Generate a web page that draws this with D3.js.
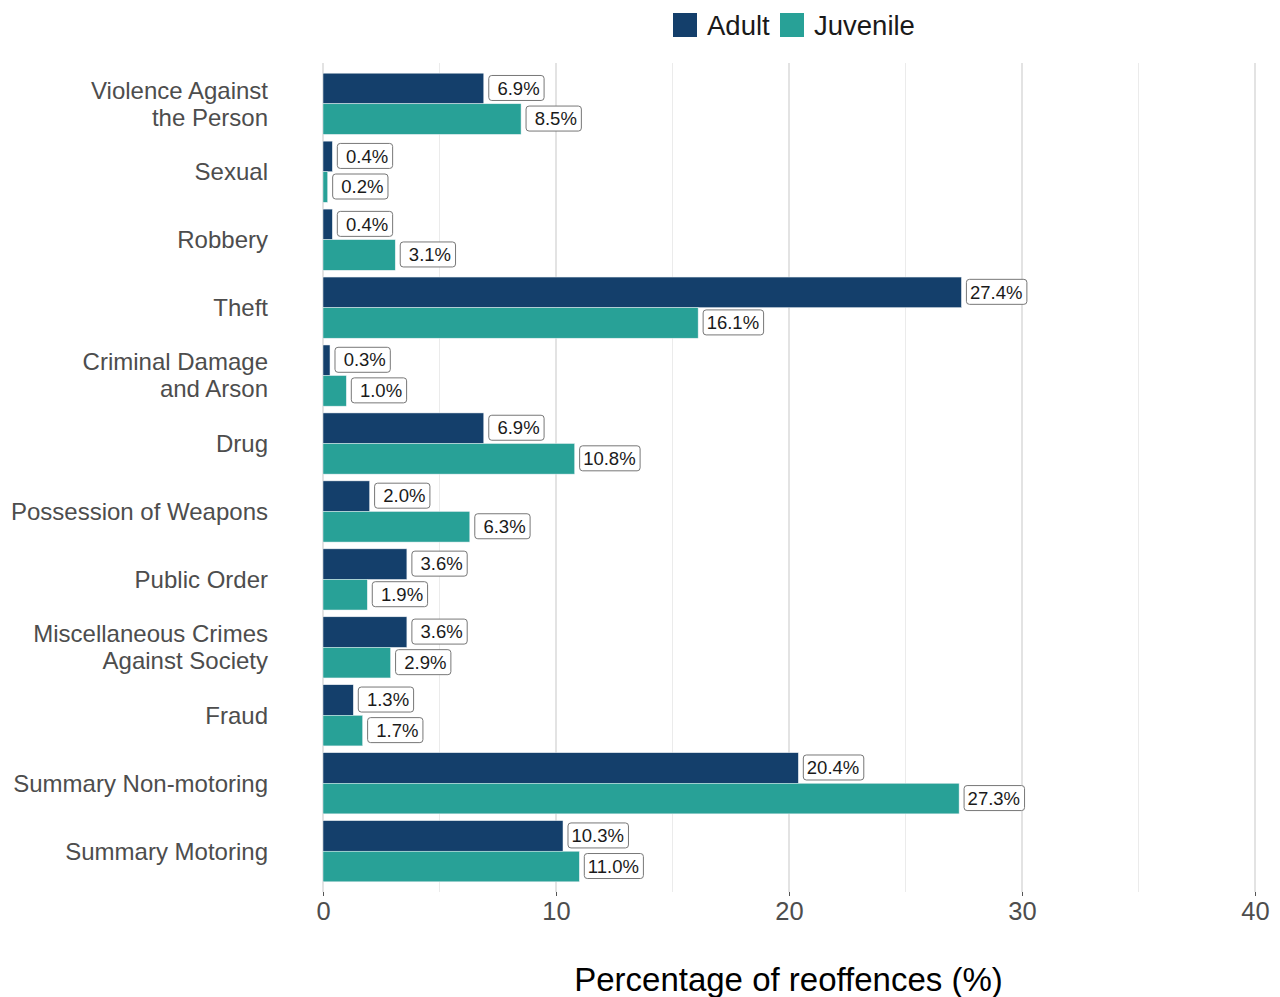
<!DOCTYPE html>
<html><head><meta charset="utf-8">
<script src="https://cdn.jsdelivr.net/npm/d3@7"></script>
<style>body{margin:0;background:#fff}svg{display:block}</style>
</head><body>
<script>
const categories = ["Violence Against\nthe Person","Sexual","Robbery","Theft","Criminal Damage\nand Arson","Drug","Possession of Weapons","Public Order","Miscellaneous Crimes\nAgainst Society","Fraud","Summary Non-motoring","Summary Motoring"];
const adult = [6.9,0.4,0.4,27.4,0.3,6.9,2.0,3.6,3.6,1.3,20.4,10.3];
const juvenile = [8.5,0.2,3.1,16.1,1.0,10.8,6.3,1.9,2.9,1.7,27.3,11.0];
const seriesNames = ["Adult","Juvenile"];
const colors = ["#143F6B","#28A197"];
const xTicks = [0,10,20,30,40];
const minorTicks = [5,15,25,35];

(function(){
const W=1280,H=997;
const svg=d3.select("body").append("svg").attr("width",W).attr("height",H);
const font="Liberation Sans, Arial, sans-serif";
const pL=323,pR=1255,pT=63,pB=892;
const x=d3.scaleLinear().domain([0,40]).range([pL,pR]);
const n=categories.length;
const unit=(pB-pT)/(n-1+1.2);
const y=d3.scalePoint().domain(categories).range([pT+0.6*unit,pB-0.6*unit]);
const bw=unit*0.9/2;

svg.selectAll(".minor").data(minorTicks).enter().append("line")
 .attr("x1",d=>x(d)).attr("x2",d=>x(d)).attr("y1",pT).attr("y2",pB)
 .attr("stroke","#ebebeb").attr("stroke-width",1);
svg.selectAll(".major").data(xTicks).enter().append("line")
 .attr("x1",d=>x(d)).attr("x2",d=>x(d)).attr("y1",pT).attr("y2",pB)
 .attr("stroke","#d0d0d0").attr("stroke-width",1.2);

const ax=svg.append("g").attr("transform",`translate(0,${pB})`)
 .call(d3.axisBottom(x).tickValues(xTicks).tickSize(4).tickPadding(6));
ax.select(".domain").remove();
ax.selectAll(".tick line").attr("stroke","#555");
ax.selectAll(".tick text").attr("font-family",font).attr("font-size",25.5).attr("fill","#4d4d4d");

const data=[];
categories.forEach((c,i)=>{data.push({c,s:0,v:adult[i]});data.push({c,s:1,v:juvenile[i]});});
const yb=d=>y(d.c)-bw+d.s*bw;
svg.selectAll(".bar").data(data).enter().append("rect")
 .attr("x",x(0)).attr("y",yb).attr("width",d=>x(d.v)-x(0)).attr("height",bw)
 .attr("fill",d=>colors[d.s]).attr("stroke","#e8eef2").attr("stroke-width",0.5);

const lg=svg.selectAll(".lab").data(data).enter().append("g")
 .attr("transform",d=>`translate(${x(d.v)+4.5},${yb(d)+bw/2-0.5})`);
lg.append("text").text(d=>(d.v<10?" ":"")+d.v.toFixed(1)+"%")
 .style("white-space","pre").attr("xml:space","preserve")
 .attr("x",4).attr("dy","0.36em").attr("font-family",font).attr("font-size",18.5).attr("fill","#1a1a1a")
 .each(function(){const b=this.getBBox();
   d3.select(this.parentNode).insert("rect","text").attr("x",0.5).attr("y",-12.5)
   .attr("width",b.width+8).attr("height",25).attr("rx",3).attr("fill","#fff")
   .attr("stroke","#777").attr("stroke-width",1);});

categories.forEach(c=>{
  const lines=c.split("\n");
  const t=svg.append("text").attr("text-anchor","end").attr("font-family",font)
   .attr("font-size",24).attr("fill","#4d4d4d");
  const lh=27;
  lines.forEach((l,j)=>{
    t.append("tspan").attr("x",268).attr("y",y(c)+(j-(lines.length-1)/2)*lh).attr("dy","0.35em").text(l);
  });
});

const leg=svg.append("g");
const lx=[673,780];
seriesNames.forEach((s,i)=>{
  leg.append("rect").attr("x",lx[i]).attr("y",13).attr("width",24).attr("height",24).attr("fill",colors[i]);
  leg.append("text").attr("x",lx[i]+34).attr("y",25).attr("dy","0.36em").attr("font-family",font)
   .attr("font-size",27.5).attr("fill","#1a1a1a").text(s);
});

svg.append("text").attr("x",788.5).attr("y",991).attr("text-anchor","middle")
 .attr("font-family",font).attr("font-size",33).attr("fill","#000").text("Percentage of reoffences (%)");
})();
</script>
</body></html>
